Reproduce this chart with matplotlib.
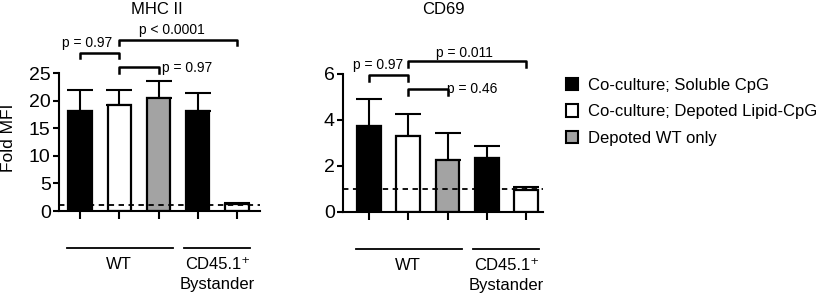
import numpy as np
import matplotlib
matplotlib.use('Agg')
import matplotlib.pyplot as plt
from matplotlib.patches import Patch
from matplotlib.transforms import blended_transform_factory

plt.rcParams['font.family'] = ['Liberation Sans', 'DejaVu Sans']

# ---------- data ----------
conditions = ['Co-culture; Soluble CpG', 'Co-culture; Depoted Lipid-CpG',
              'Depoted WT only', 'Co-culture; Soluble CpG', 'Co-culture; Depoted Lipid-CpG']
bar_colors = ['black', 'white', '#a3a3a3', 'black', 'white']

mhc_mean = [18.1, 19.2, 20.5, 18.1, 1.2]
mhc_top = [22.0, 21.9, 23.6, 21.3, 1.5]     # mean + SD
cd69_mean = [3.75, 3.3, 2.25, 2.35, 0.97]
cd69_top = [4.9, 4.28, 3.42, 2.87, 1.08]

# brackets: (bar i, bar j, top y, tick bottom y, label, text x, text y, align)
mhc_brackets = [
    (0, 1, 28.6, 27.7, 'p = 0.97', 0.17, 30.4, 'center'),
    (1, 4, 31.0, 30.0, 'p < 0.0001', 2.34, 32.8, 'center'),
    (1, 2, 26.1, 25.0, 'p = 0.97', 2.09, 25.9, 'left'),
]
cd69_brackets = [
    (0, 1, 5.96, 5.70, 'p = 0.97', 0.23, 6.39, 'center'),
    (1, 4, 6.57, 6.30, 'p = 0.011', 2.44, 6.91, 'center'),
    (1, 2, 5.35, 5.09, 'p = 0.46', 1.99, 5.35, 'left'),
]

x = np.arange(5)

fig = plt.figure(figsize=(8.29, 2.96), dpi=100)
ax1 = fig.add_axes([59/829, 1-211/296, 201/829, 138/296])
ax2 = fig.add_axes([343/829, 1-212/296, 200/829, 138/296])


def draw_panel(ax, means, tops, brackets, ylim, yticks, xlim):
    means = np.array(means)
    err = np.array(tops) - means
    ax.errorbar(x, means, yerr=[np.zeros_like(err), err], fmt='none',
                ecolor='black', elinewidth=1.5, capsize=9.5, capthick=1.5, zorder=1)
    ax.bar(x, means, width=0.6, color=bar_colors, edgecolor='black',
           linewidth=1.6, zorder=2)
    ax.axhline(1, color='black', lw=1.3, ls=(0, (3, 2.5)), zorder=3)
    ax.set_xlim(*xlim)
    ax.set_ylim(*ylim)
    ax.set_yticks(yticks)
    ax.set_xticks(x)
    ax.set_xticklabels([])
    for s in ['top', 'right']:
        ax.spines[s].set_visible(False)
    for s in ['left', 'bottom']:
        ax.spines[s].set_linewidth(1.5)
    ax.tick_params(axis='y', labelsize=14, width=1.5, length=4, pad=2)
    ax.tick_params(axis='x', width=1.5, length=6)

    for i, j, ytop, ybot, label, tx, ty, ha in brackets:
        ax.plot([x[i], x[i], x[j], x[j]], [ybot, ytop, ytop, ybot],
                color='black', lw=1.8, clip_on=False)
        ax.text(tx, ty, label, ha=ha, va='center', fontsize=10)

    # group lines and labels below the axis
    tr = blended_transform_factory(ax.transData, ax.transAxes)
    ax.plot([-0.34, 2.37], [-0.265, -0.265], color='black', lw=1.3,
            transform=tr, clip_on=False)
    ax.plot([2.66, 4.33], [-0.265, -0.265], color='black', lw=1.3,
            transform=tr, clip_on=False)
    ax.text(1.0, -0.39, 'WT', transform=tr, ha='center', va='center', fontsize=12)
    ax.text(3.5, -0.39, 'CD45.1\u207a', transform=tr, ha='center', va='center', fontsize=12)
    ax.text(3.5, -0.535, 'Bystander', transform=tr, ha='center', va='center', fontsize=12)


draw_panel(ax1, mhc_mean, mhc_top, mhc_brackets, (0, 25), [0, 5, 10, 15, 20, 25], (-0.54, 4.59))
draw_panel(ax2, cd69_mean, cd69_top, cd69_brackets, (0, 6), [0, 2, 4, 6], (-0.66, 4.43))

fig.text(9/829, 1-138/296, 'Fold MFI', rotation=90, ha='center', va='center', fontsize=12.5)

fig.text(157/829, 1-10/296, 'MHC II', ha='center', va='center', fontsize=12)
fig.text(443/829, 1-10/296, 'CD69', ha='center', va='center', fontsize=12)

handles = [Patch(facecolor=c, edgecolor='black', linewidth=1.5) for c in bar_colors[:3]]
fig.legend(handles, conditions[:3], loc='upper left',
           bbox_to_anchor=(566/829, 1-78/296), frameon=False, fontsize=12,
           handlelength=0.75, handleheight=0.75, handletextpad=0.6,
           labelspacing=0.68, borderpad=0, borderaxespad=0)

fig.savefig('out.png', dpi=100)
